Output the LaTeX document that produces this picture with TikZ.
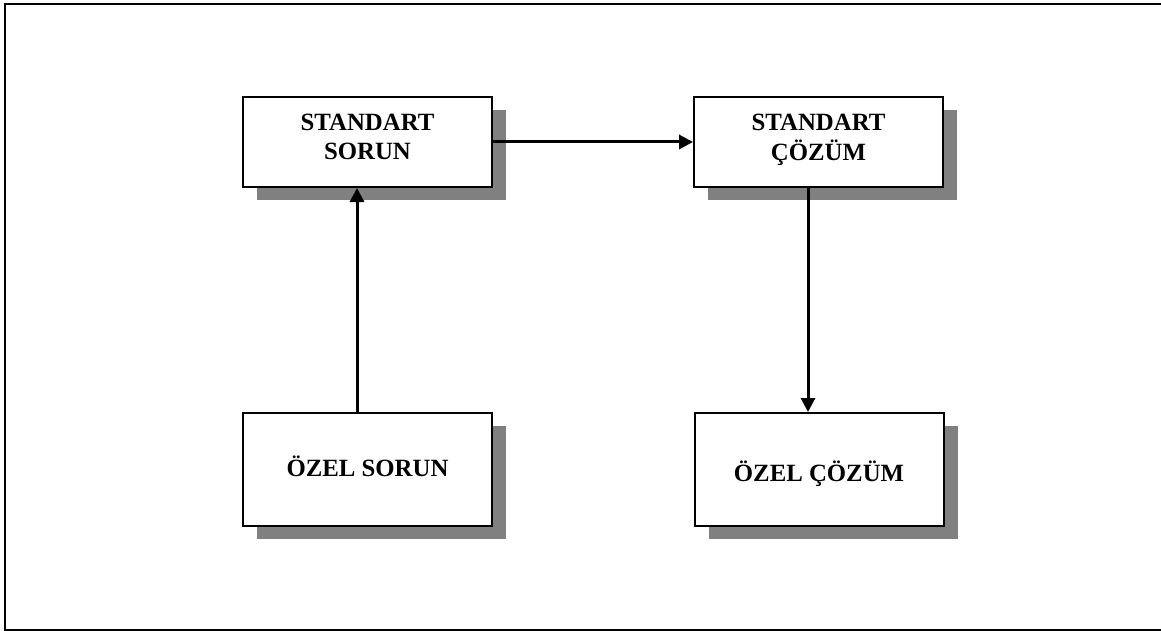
\documentclass[tikz,border=0pt]{standalone}
\usepackage{fontspec}
\setmainfont{Liberation Serif}
\usetikzlibrary{shadows,arrows.meta}
\begin{document}
\begin{tikzpicture}[x=1pt,y=-1pt,
  box/.style={draw=black, line width=2pt, fill=white, rectangle,
    inner sep=0pt, font=\bfseries\fontsize{24.8}{29}\selectfont,
    drop shadow={shadow xshift=14pt, shadow yshift=-13pt, fill=black!50, opacity=1}},
  conn/.style={line width=3pt, -{Triangle[length=14pt,width=14pt]}}]
\useasboundingbox (0,0) rectangle (1161,631);
\draw[line width=2pt] (1170,4) -- (5,4) -- (5,630) -- (1170,630);
\node[box, minimum width=249pt, minimum height=90pt, text height=0pt, text depth=22pt] (ss) at (367.5,142)
  {\begin{tabular}[t]{@{}c@{}}STANDART\\SORUN\end{tabular}};
\node[box, minimum width=249pt, minimum height=90pt, text height=0pt, text depth=22pt] (sc) at (818.5,142)
  {\begin{tabular}[t]{@{}c@{}}STANDART\\ÇÖZÜM\end{tabular}};
\node[box, minimum width=249pt, minimum height=113pt, text height=17pt, text depth=4pt] (os) at (367.5,469.5) {ÖZEL SORUN};
\node[box, minimum width=249pt, minimum height=113pt, text height=25pt, text depth=2pt] (oc) at (819,469.5) {ÖZEL ÇÖZÜM};
\draw[conn] (ss.east) -- (sc.west);
\draw[conn] ([xshift=-10.5pt]os.north) -- ([xshift=-10.5pt]ss.south);
\draw[conn] ([xshift=-10.5pt]sc.south) -- ([xshift=-11pt]oc.north);
\end{tikzpicture}
\end{document}
